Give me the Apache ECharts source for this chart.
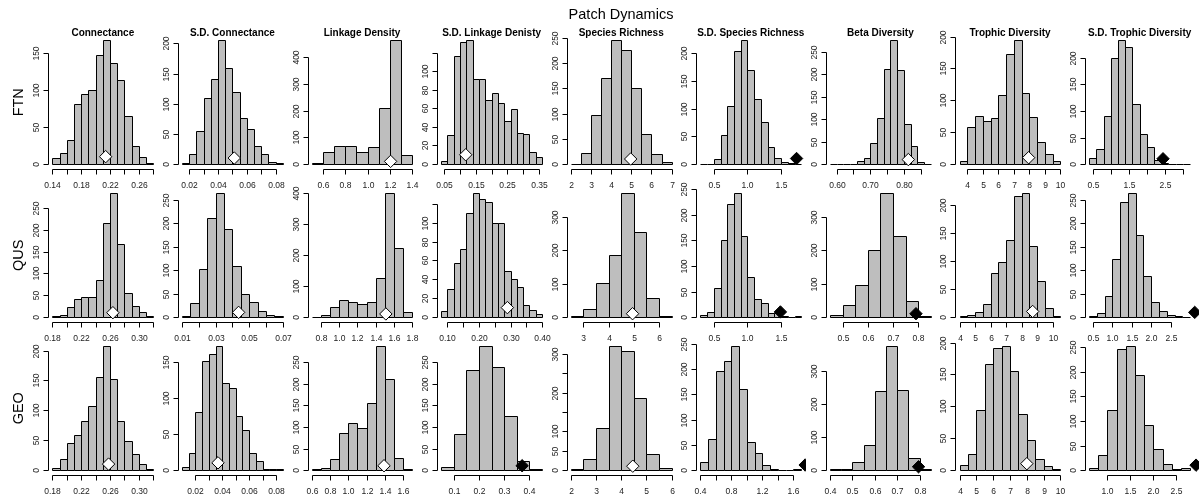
<!DOCTYPE html>
<html><head><meta charset="utf-8">
<script src="https://cdn.jsdelivr.net/npm/echarts@6/dist/echarts.min.js"></script>
<style>html,body{margin:0;padding:0;background:#fff}#c{width:1199px;height:502px}</style>
</head><body><div id="c"></div>
<script>
// ---------------- DATA ----------------
const mainTitle = 'Patch Dynamics';
const metrics = ['Connectance','S.D. Connectance','Linkage Density','S.D. Linkage Denisty','Species Richness','S.D. Species Richness','Beta Diversity','Trophic Diversity','S.D. Trophic Diversity'];
const models = ['FTN','QUS','GEO'];

// FTN
const FTN_binStart = [0.14, 0.015, 0.5, 0.04, 2, 0.3, 0.58, 3.5, 0.4];
const FTN_binWidth = [0.01, 0.005, 0.1, 0.02, 0.5, 0.1, 0.02, 0.5, 0.2];
const FTN_counts = [
  [8,15,33,81,95,100,147,167,136,114,65,25,10,2],
  [1,17,55,110,141,205,159,120,77,58,30,17,4,1],
  [3,44,69,69,45,63,210,462,35],
  [3,31,116,131,133,91,91,69,76,66,46,59,33,32,13,8],
  [1,22,97,170,245,227,151,60,19,4],
  [0,0,9,52,105,204,223,170,117,75,30,11,4,2,1],
  [0,0,0,1,7,13,47,103,213,276,209,90,40,4,1],
  [5,58,76,68,73,109,173,194,111,74,35,16,5],
  [12,29,90,199,233,220,113,57,33,7,2,1,0,0]
];
const FTN_observed = [0.214, 0.0513, 1.205, 0.118, 4.97, 1.73, 0.813, 7.95, 2.45];
const FTN_significant = [false,false,false,false,false,true,false,false,true];
const FTN_xTicks = [
  [0.14,0.16,0.18,0.20,0.22,0.24,0.26,0.28],
  [0.02,0.03,0.04,0.05,0.06,0.07,0.08],
  [0.6,0.8,1.0,1.2,1.4],
  [0.05,0.10,0.15,0.20,0.25,0.30,0.35],
  [2,3,4,5,6,7],
  [0.5,1.0,1.5],
  [0.60,0.65,0.70,0.75,0.80,0.85],
  [4,5,6,7,8,9,10],
  [0.5,1.0,1.5,2.0,2.5,3.0]
];
const FTN_xLabels = [
  ['0.14','','0.18','','0.22','','0.26',''],
  ['0.02','','0.04','','0.06','','0.08'],
  ['0.6','0.8','1.0','1.2','1.4'],
  ['0.05','','0.15','','0.25','','0.35'],
  ['2','3','4','5','6','7'],
  ['0.5','1.0','1.5'],
  ['0.60','','0.70','','0.80',''],
  ['4','5','6','7','8','9','10'],
  ['0.5','','1.5','','2.5','']
];
const FTN_yTicks = [
  [0,50,100,150],[0,50,100,150,200],[0,100,200,300,400],[0,20,40,60,80,100,120],
  [0,50,100,150,200,250],[0,50,100,150,200],[0,50,100,150,200,250],[0,50,100,150,200],[0,50,100,150,200]
];
const FTN_yLabels = [
  ['0','50','100','150'],['0','50','100','150','200'],['0','100','200','300','400'],['0','20','40','60','80','100',''],
  ['0','50','100','150','200','250'],['0','50','100','150','200'],['0','50','100','150','200','250'],['0','50','100','150','200'],['0','50','100','150','200']
];

// QUS
const QUS_binStart = [0.18, 0.01, 0.7, 0.08, 2.5, 0.3, 0.45, 4, 0.4];
const QUS_binWidth = [0.01, 0.005, 0.1, 0.02, 0.5, 0.1, 0.05, 0.5, 0.2];
const QUS_counts = [
  [2,5,23,42,47,45,84,216,283,167,54,25,12,2],
  [2,29,102,210,263,187,109,48,33,13,4,2],
  [1,6,33,54,50,42,49,128,400,225,17],
  [6,30,57,72,110,131,125,122,100,100,49,40,32,13,8,3],
  [2,24,103,187,370,256,57,4],
  [5,9,57,150,222,242,159,79,36,28,8,8,2,0,2],
  [6,35,96,202,370,244,49,2],
  [2,3,9,24,79,98,138,217,221,127,64,17,2],
  [2,9,44,125,245,264,176,87,33,12,4,3,1]
];
const QUS_observed = [0.264, 0.0437, 1.51, 0.29, 4.95, 1.49, 0.791, 8.71, 3.12];
const QUS_significant = [false,false,false,false,false,true,true,false,true];
const QUS_xTicks = [
  [0.18,0.20,0.22,0.24,0.26,0.28,0.30,0.32],
  [0.01,0.02,0.03,0.04,0.05,0.06,0.07],
  [0.8,1.0,1.2,1.4,1.6,1.8],
  [0.10,0.15,0.20,0.25,0.30,0.35,0.40],
  [3,4,5,6],
  [0.5,1.0,1.5],
  [0.5,0.6,0.7,0.8],
  [4,5,6,7,8,9,10],
  [0.5,1.0,1.5,2.0,2.5]
];
const QUS_xLabels = [
  ['0.18','','0.22','','0.26','','0.30',''],
  ['0.01','','0.03','','0.05','','0.07'],
  ['0.8','1.0','1.2','1.4','1.6','1.8'],
  ['0.10','','0.20','','0.30','','0.40'],
  ['3','4','5','6'],
  ['0.5','1.0','1.5'],
  ['0.5','0.6','0.7','0.8'],
  ['4','5','6','7','8','9','10'],
  ['0.5','1.0','1.5','2.0','2.5']
];
const QUS_yTicks = [
  [0,50,100,150,200,250],[0,50,100,150,200,250],[0,100,200,300,400],[0,20,40,60,80,100,120],
  [0,100,200,300],[0,50,100,150,200,250],[0,100,200,300],[0,50,100,150,200],[0,50,100,150,200,250]
];
const QUS_yLabels = [
  ['0','50','100','150','200','250'],['0','50','100','150','200','250'],['0','100','200','300','400'],['0','20','40','60','80','100',''],
  ['0','100','200','300'],['0','50','100','150','200','250'],['0','100','200','300'],['0','50','100','150','200'],['0','50','100','150','200','250']
];

// GEO
const GEO_binStart = [0.18, 0.01, 0.6, 0.05, 2, 0.4, 0.4, 4, 0.6];
const GEO_binWidth = [0.01, 0.005, 0.1, 0.05, 0.5, 0.1, 0.05, 0.5, 0.2];
const GEO_counts = [
  [3,18,46,58,82,108,155,207,152,82,48,27,10,1],
  [4,24,80,151,161,171,120,114,75,55,24,12,2,1,1],
  [2,4,26,85,109,98,155,287,211,27,2],
  [8,84,233,287,240,125,22,3],
  [3,28,109,320,307,187,41,6],
  [16,62,197,217,245,161,56,34,10,2,0,0,2],
  [4,3,23,77,238,374,242,35,3],
  [8,25,95,166,191,194,155,88,47,17,7,1],
  [5,30,122,247,252,193,92,42,12,3,4]
];
const GEO_observed = [0.258, 0.0368, 1.39, 0.371, 4.46, 1.75, 0.795, 8.0, 2.93];
const GEO_significant = [false,false,false,true,false,true,true,false,true];
const GEO_xTicks = [
  [0.18,0.20,0.22,0.24,0.26,0.28,0.30,0.32],
  [0.02,0.03,0.04,0.05,0.06,0.07,0.08],
  [0.6,0.8,1.0,1.2,1.4,1.6],
  [0.1,0.2,0.3,0.4],
  [2,3,4,5,6],
  [0.4,0.6,0.8,1.0,1.2,1.4,1.6],
  [0.4,0.5,0.6,0.7,0.8],
  [4,5,6,7,8,9,10],
  [1.0,1.5,2.0,2.5]
];
const GEO_xLabels = [
  ['0.18','','0.22','','0.26','','0.30',''],
  ['0.02','','0.04','','0.06','','0.08'],
  ['0.6','0.8','1.0','1.2','1.4','1.6'],
  ['0.1','0.2','0.3','0.4'],
  ['2','3','4','5','6'],
  ['0.4','','0.8','','1.2','','1.6'],
  ['0.4','0.5','0.6','0.7','0.8'],
  ['4','5','6','7','8','9','10'],
  ['1.0','1.5','2.0','2.5']
];
const GEO_yTicks = [
  [0,50,100,150,200],[0,50,100,150],[0,50,100,150,200,250],[0,50,100,150,200,250],
  [0,50,100,150,200,250,300],[0,50,100,150,200,250],[0,100,200,300],[0,50,100,150,200],[0,50,100,150,200,250]
];
const GEO_yLabels = [
  ['0','50','100','150','200'],['0','50','100','150'],['0','50','100','150','200','250'],['0','50','100','150','200','250'],
  ['0','50','100','','200','','300'],['0','50','100','150','200','250'],['0','100','200','300'],['0','50','100','150','200'],['0','50','100','150','200','250']
];

const markerY = 10;

// ---------------- LAYOUT / STYLE ----------------
const FONT = '"Liberation Sans", Arial, Helvetica, sans-serif';
const LEFT0 = 48.3, COLSTEP = 129.6, PW = 109, TOP0 = 35.5, ROWSTEP = 153, PH = 133.5;
const BAR_FILL = '#bebebe', INK = '#000', LABEL = '#222';

const sets = [
  [FTN_binStart, FTN_binWidth, FTN_counts, FTN_observed, FTN_significant, FTN_xTicks, FTN_xLabels, FTN_yTicks, FTN_yLabels],
  [QUS_binStart, QUS_binWidth, QUS_counts, QUS_observed, QUS_significant, QUS_xTicks, QUS_xLabels, QUS_yTicks, QUS_yLabels],
  [GEO_binStart, GEO_binWidth, GEO_counts, GEO_observed, GEO_significant, GEO_xTicks, GEO_xLabels, GEO_yTicks, GEO_yLabels]
];

function histItem(params, api) {
  const a = api.coord([api.value(0), api.value(2)]);
  const b = api.coord([api.value(1), 0]);
  const x0 = Math.round(a[0]) + 0.5, x1 = Math.round(b[0]) + 0.5;
  const y0 = Math.round(a[1]) + 0.5, y1 = Math.round(b[1]) + 0.5;
  if (y1 - y0 < 0.5) {
    return {type:'line', shape:{x1:x0, y1:y1, x2:x1, y2:y1}, style:{stroke:INK, lineWidth:1}};
  }
  return {type:'rect', shape:{x:x0, y:y0, width:x1-x0, height:y1-y0},
          style:{fill:BAR_FILL, stroke:INK, lineWidth:1}};
}

function diamondItem(params, api) {
  const p = api.coord([api.value(0), api.value(1)]);
  const r = 6.2;
  return {type:'polygon',
    shape:{points:[[p[0],p[1]-r],[p[0]+r,p[1]],[p[0],p[1]+r],[p[0]-r,p[1]]]},
    style:{fill: api.value(2) ? '#000' : '#fff', stroke:INK, lineWidth:1}};
}

function textEl(x, y, s, size, rot, weight, color) {
  return {type:'text', x:x, y:y, rotation: rot || 0,
    style:{text:s, font:(weight||'normal') + ' ' + size + 'px ' + FONT, fill: color || LABEL,
      align:'center', verticalAlign:'middle', textAlign:'center', textVerticalAlign:'middle'}};
}

function makeAxisItem(xt, xl, yt, yl) {
  return function (params, api) {
    const cs = params.coordSys;
    const bottom = Math.round(cs.y + cs.height) + 0.5;
    const left = Math.round(cs.x) + 0.5;
    const ch = [];
    const xs = xt.map(v => Math.round(api.coord([v, 0])[0]) + 0.5);
    ch.push({type:'line', shape:{x1:xs[0], y1:bottom, x2:xs[xs.length-1], y2:bottom}, style:{stroke:INK, lineWidth:1}});
    xs.forEach((x, i) => {
      ch.push({type:'line', shape:{x1:x, y1:bottom, x2:x, y2:bottom+5}, style:{stroke:INK, lineWidth:1}});
      if (xl[i]) ch.push(textEl(x, bottom + 16, xl[i], 8.5));
    });
    const ys = yt.map(v => Math.round(api.coord([xt[0], v])[1]) + 0.5);
    ch.push({type:'line', shape:{x1:left, y1:ys[0], x2:left, y2:ys[ys.length-1]}, style:{stroke:INK, lineWidth:1}});
    ys.forEach((y, i) => {
      ch.push({type:'line', shape:{x1:left-5, y1:y, x2:left, y2:y}, style:{stroke:INK, lineWidth:1}});
      if (yl[i]) ch.push(textEl(left - 12, y, yl[i], 8.5, Math.PI/2));
    });
    return {type:'group', children: ch};
  };
}

const grid = [], xAxis = [], yAxis = [], series = [], graphic = [];
sets.forEach((s, r) => {
  const [bs, bw, cnt, obs, sig, xt, xl, yt, yl] = s;
  for (let c = 0; c < 9; c++) {
    const idx = r * 9 + c;
    const counts = cnt[c];
    const n = counts.length;
    const b0 = bs[c], b1 = bs[c] + n * bw[c];
    const span = b1 - b0;
    const M = Math.max.apply(null, counts);
    const left = LEFT0 + c * COLSTEP, top = TOP0 + r * ROWSTEP;
    grid.push({left:left, top:top, width:PW, height:PH, containLabel:false});
    xAxis.push({type:'value', gridIndex:idx, min:b0 - 0.04*span, max:b1 + 0.04*span, show:false});
    yAxis.push({type:'value', gridIndex:idx, min:-0.04*M, max:1.04*M, show:false});
    const bins = counts.map((v, i) => [b0 + i*bw[c], b0 + (i+1)*bw[c], v]);
    series.push({type:'custom', xAxisIndex:idx, yAxisIndex:idx, silent:true, animation:false,
      data:bins, encode:{x:[0,1], y:2}, renderItem:histItem, z:2});
    series.push({type:'custom', xAxisIndex:idx, yAxisIndex:idx, silent:true, animation:false,
      data:[[0]], renderItem:makeAxisItem(xt[c], xl[c], yt[c], yl[c]), z:3});
    series.push({type:'custom', xAxisIndex:idx, yAxisIndex:idx, silent:true, animation:false,
      clip: c < 8,
      data:[[obs[c], markerY, sig[c] ? 1 : 0]], encode:{x:0, y:1}, renderItem:diamondItem, z:4});
    if (r === 0) graphic.push(textEl(left + PW/2, top - 2.5, metrics[c], 10, 0, 'bold', '#000'));
  }
  graphic.push(textEl(18.5, TOP0 + r*ROWSTEP + PH/2, models[r], 14.5, Math.PI/2, 'normal', '#000'));
});
graphic.push(textEl(621, 15, mainTitle, 14.5, 0, 'normal', '#000'));

const chart = echarts.init(document.getElementById('c'), null, {renderer:'canvas'});
chart.setOption({
  animation:false,
  backgroundColor:'#fff',
  grid:grid, xAxis:xAxis, yAxis:yAxis, series:series,
  graphic:{elements:graphic}
});
</script>
</body></html>
